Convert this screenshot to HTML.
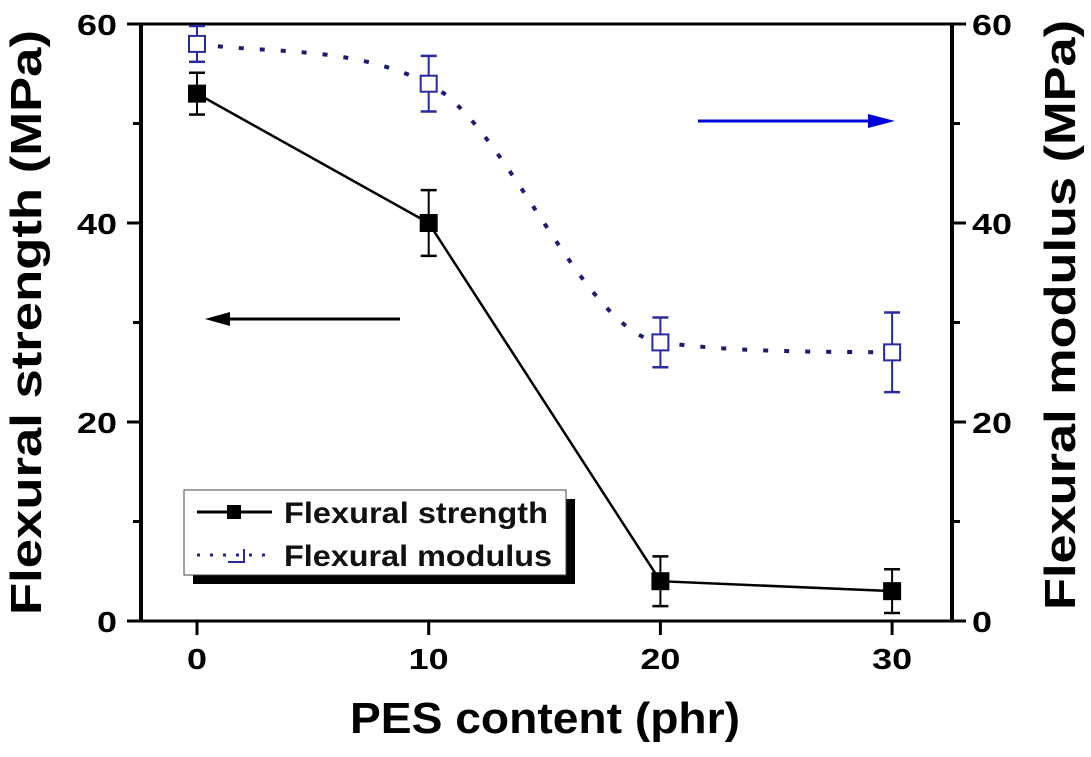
<!DOCTYPE html>
<html><head><meta charset="utf-8"><style>
html,body{margin:0;padding:0;background:#fff}
svg text{font-family:"Liberation Sans",Arial,sans-serif;font-weight:bold}
</style></head><body>
<svg id="chart" width="1091" height="752" viewBox="0 0 1091 752" xmlns="http://www.w3.org/2000/svg"></svg>
<script>
const categories = [0, 10, 20, 30];
const strengthValues = [53, 40, 4, 3];
const strengthErrors = [2.1, 3.3, 2.5, 2.2];
const modulusValues = [58, 54, 28, 27];
const modulusErrors = [1.8, 2.8, 2.5, 4];
const yTicks = [0, 20, 40, 60];
const yMinorTicks = [10, 30, 50];
const xTicks = [0, 10, 20, 30];

const NS = "http://www.w3.org/2000/svg";
const svg = document.getElementById('chart');
const L = 141, R = 952, T = 24, B = 621;
const X0 = 197, XS = 23.17;
function xs(v){ return X0 + v * XS; }
function ys(v){ return B - (v / 60) * (B - T); }
function mk(tag, attrs, parent){
  const e = document.createElementNS(NS, tag);
  for (const k in attrs) e.setAttribute(k, attrs[k]);
  (parent || svg).appendChild(e);
  return e;
}
function txt(s, attrs, parent){ const e = mk('text', attrs, parent); e.textContent = s; return e; }

const axes = mk('g', {});


mk('line', {x1:127, y1:T, x2:R, y2:T, stroke:'#000', 'stroke-width':3}, axes);
mk('line', {x1:127, y1:B, x2:R, y2:B, stroke:'#000', 'stroke-width':3}, axes);
mk('line', {x1:L, y1:T, x2:L, y2:B, stroke:'#000', 'stroke-width':4}, axes);
mk('line', {x1:R, y1:T, x2:R, y2:B, stroke:'#000', 'stroke-width':4}, axes);

yTicks.forEach(v => {
  mk('line', {x1:127, y1:ys(v), x2:L, y2:ys(v), stroke:'#000', 'stroke-width':3}, axes);
  mk('line', {x1:R, y1:ys(v), x2:966, y2:ys(v), stroke:'#000', 'stroke-width':3}, axes);
  const lab = String(v);
  const w = lab.length * 20;
  const t1 = txt(lab, {x:117 - w, y:ys(v)+11, 'font-size':29, textLength:w, lengthAdjust:'spacingAndGlyphs'}, axes);
  
  
  const t2 = txt(lab, {x:972, y:ys(v)+11, 'font-size':29, textLength:w, lengthAdjust:'spacingAndGlyphs'}, axes);
  
  
});
yMinorTicks.forEach(v => {
  mk('line', {x1:133, y1:ys(v), x2:L, y2:ys(v), stroke:'#000', 'stroke-width':3}, axes);
  mk('line', {x1:R, y1:ys(v), x2:960, y2:ys(v), stroke:'#000', 'stroke-width':3}, axes);
});
xTicks.forEach(v => {
  mk('line', {x1:xs(v), y1:B, x2:xs(v), y2:B+14, stroke:'#000', 'stroke-width':3}, axes);
  const lab = String(v);
  const w = lab.length * 20;
  const t = txt(lab, {x:xs(v) - w/2, y:B+48, 'font-size':29, textLength:w, lengthAdjust:'spacingAndGlyphs'}, axes);
  
  
});

const xt = txt('PES content (phr)', {x:350, y:733, 'font-size':44, textLength:390, lengthAdjust:'spacingAndGlyphs'});


const yl = txt('Flexural strength (MPa)', {x:-292, y:0, 'font-size':44, textLength:585, lengthAdjust:'spacingAndGlyphs', transform:'translate(41,323) rotate(-90)'});


const yr = txt('Flexural modulus (MPa)', {x:-295, y:0, 'font-size':44, textLength:590, lengthAdjust:'spacingAndGlyphs', transform:'translate(1075,315) rotate(-90)'});



// modulus monotone cubic curve
const mp = categories.map((c,i) => [xs(c), ys(modulusValues[i])]);
const n = mp.length, dk = [], m = [];
for (let i = 0; i < n-1; i++) dk.push((mp[i+1][1]-mp[i][1])/(mp[i+1][0]-mp[i][0]));
m[0] = dk[0]; m[n-1] = dk[n-2];
for (let i = 1; i < n-1; i++) m[i] = (dk[i-1]*dk[i] <= 0) ? 0 : (dk[i-1]+dk[i])/2;
for (let i = 0; i < n-1; i++) {
  if (dk[i] === 0) { m[i] = 0; m[i+1] = 0; continue; }
  const a = m[i]/dk[i], b = m[i+1]/dk[i], s = a*a + b*b;
  if (s > 9) { const t = 3/Math.sqrt(s); m[i] = t*a*dk[i]; m[i+1] = t*b*dk[i]; }
}
let d = 'M' + mp[0][0] + ',' + mp[0][1];
for (let i = 0; i < n-1; i++) {
  const h = (mp[i+1][0]-mp[i][0])/3;
  d += ' C' + (mp[i][0]+h) + ',' + (mp[i][1]+m[i]*h) + ' ' + (mp[i+1][0]-h) + ',' + (mp[i+1][1]-m[i+1]*h) + ' ' + mp[i+1][0] + ',' + mp[i+1][1];
}
const ml = mk('path', {d:d, fill:'none', stroke:'#1c1c70', 'stroke-width':4, 'stroke-dasharray':'5 16'});



const sl = mk('polyline', {points: categories.map((c,i)=>xs(c)+','+ys(strengthValues[i])).join(' '), fill:'none', stroke:'#000', 'stroke-width':2.5});



function errBar(x, v, e, color, name){
  const g = mk('g', {});
  
  
  mk('line', {x1:x, y1:ys(v+e), x2:x, y2:ys(v-e), stroke:color, 'stroke-width':2}, g);
  mk('line', {x1:x-8, y1:ys(v+e), x2:x+8, y2:ys(v+e), stroke:color, 'stroke-width':2.5}, g);
  mk('line', {x1:x-8, y1:ys(v-e), x2:x+8, y2:ys(v-e), stroke:color, 'stroke-width':2.5}, g);
}
categories.forEach((c,i) => {
  errBar(xs(c), modulusValues[i], modulusErrors[i], '#2a2aa0', 'modulus-error-bar');
  const mm = mk('rect', {x:xs(c)-8, y:ys(modulusValues[i])-8, width:16, height:16, fill:'#fff', stroke:'#2a2aa0', 'stroke-width':2});
  
  
  errBar(xs(c), strengthValues[i], strengthErrors[i], '#000', 'strength-error-bar');
  const s = mk('rect', {x:xs(c)-9, y:ys(strengthValues[i])-9, width:18, height:18, fill:'#000'});
  
  
});

const a1 = mk('g', {});


mk('line', {x1:400, y1:319, x2:225, y2:319, stroke:'#000', 'stroke-width':3}, a1);
mk('polygon', {points:'205,319 230,312 230,326', fill:'#000'}, a1);
const a2 = mk('g', {});


mk('line', {x1:698, y1:121, x2:875, y2:121, stroke:'#0000dd', 'stroke-width':3}, a2);
mk('polygon', {points:'895,121 868,114 868,128', fill:'#0000dd'}, a2);

const lg = mk('g', {});


mk('rect', {x:193, y:499, width:382, height:85, fill:'#000'}, lg);
mk('rect', {x:184, y:490, width:382, height:85, fill:'#fff', stroke:'#444', 'stroke-width':1}, lg);
const le1 = mk('g', {}, lg);


mk('line', {x1:197, y1:512, x2:272, y2:512, stroke:'#000', 'stroke-width':3}, le1);
mk('rect', {x:227, y:505, width:14, height:14, fill:'#000'}, le1);
txt('Flexural strength', {x:284, y:523, 'font-size':30, fill:'#111', textLength:264, lengthAdjust:'spacingAndGlyphs'}, le1);
const le2 = mk('g', {}, lg);


mk('line', {x1:197, y1:555, x2:272, y2:555, stroke:'#22228c', 'stroke-width':3, 'stroke-dasharray':'3 10'}, le2);
mk('polyline', {points:'228,562 244,562 244,549', fill:'none', stroke:'#2a2aa0', 'stroke-width':2}, le2);
txt('Flexural modulus', {x:284, y:566, 'font-size':30, fill:'#111', textLength:268, lengthAdjust:'spacingAndGlyphs'}, le2);
</script>
</body></html>
